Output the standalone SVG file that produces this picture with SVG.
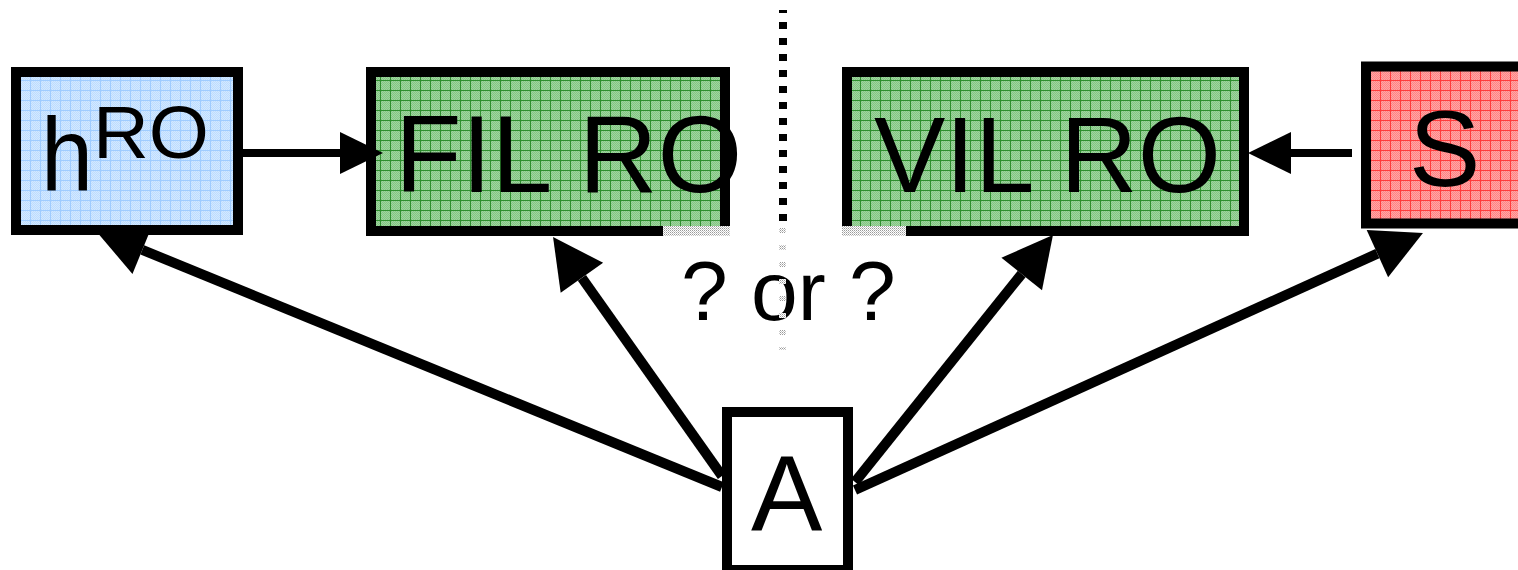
<svg xmlns="http://www.w3.org/2000/svg" width="1518" height="570" viewBox="0 0 1518 570">
  <style>
    .box { stroke: #000; stroke-width: 10; }
    .lbl { font-family: "Liberation Sans", Arial, sans-serif; fill: #000; }
    .big { font-size: 107px; }
    .conn { stroke: #000; stroke-width: 10; fill: none; stroke-linecap: butt; }
    .connh { stroke: #000; stroke-width: 8; fill: none; }
  </style>
  <defs>
    <!-- fine checker textures used under the grid lines -->
    <pattern id="chkBlue" width="2" height="2" patternUnits="userSpaceOnUse">
      <rect width="2" height="2" fill="#d3e9ff"/>
      <rect width="1" height="1" fill="#bddcff"/>
      <rect x="1" y="1" width="1" height="1" fill="#bddcff"/>
    </pattern>
    <pattern id="chkGreen" width="2" height="2" patternUnits="userSpaceOnUse">
      <rect width="2" height="2" fill="#9ed69e"/>
      <rect width="1" height="1" fill="#84c484"/>
      <rect x="1" y="1" width="1" height="1" fill="#84c484"/>
    </pattern>
    <pattern id="chkRed" width="2" height="2" patternUnits="userSpaceOnUse">
      <rect width="2" height="2" fill="#ffa6a6"/>
      <rect width="1" height="1" fill="#ff8484"/>
      <rect x="1" y="1" width="1" height="1" fill="#ff8484"/>
    </pattern>
    <pattern id="chkGray" width="2" height="2" patternUnits="userSpaceOnUse">
      <rect width="2" height="2" fill="#ffffff"/>
      <rect width="1" height="1" fill="#9a9a9a"/>
      <rect x="1" y="1" width="1" height="1" fill="#c8c8c8"/>
    </pattern>
    <!-- grid fills for the boxes -->
    <pattern id="gridBlue" width="10" height="10" patternUnits="userSpaceOnUse">
      <rect width="10" height="10" fill="url(#chkBlue)"/>
      <path d="M0,0.5H10M0.5,0V10" stroke="#9fccff" stroke-width="1"/>
    </pattern>
    <pattern id="gridGreen" width="10" height="10" patternUnits="userSpaceOnUse">
      <rect width="10" height="10" fill="url(#chkGreen)"/>
      <path d="M0,0.5H10M0.5,0V10" stroke="#2e8f2e" stroke-width="1"/>
    </pattern>
    <pattern id="gridRed" width="10" height="10" patternUnits="userSpaceOnUse">
      <rect width="10" height="10" fill="url(#chkRed)"/>
      <path d="M0,0.5H10M0.5,0V10" stroke="#ff3c3c" stroke-width="1"/>
    </pattern>
    <!-- arrowheads: line ends at the back of the head -->
    <marker id="headH" markerUnits="userSpaceOnUse" markerWidth="44" markerHeight="44" refX="0" refY="21" orient="auto" overflow="visible">
      <path d="M0,0L43,21L0,42Z" fill="#000"/>
    </marker>
    <marker id="headD" markerUnits="userSpaceOnUse" markerWidth="52" markerHeight="54" refX="0" refY="26" orient="auto" overflow="visible">
      <path d="M0,0L50,26L0,52Z" fill="#000"/>
    </marker>
  </defs>

  <rect width="1518" height="570" fill="#fff"/>

  <!-- divider between the two alternatives -->
  <g id="divider">
    <path d="M783,10V222" stroke="#000" stroke-width="8" stroke-dasharray="7 9" stroke-dashoffset="4" fill="none"/>
  </g>

  <g id="node-hRO">
    <rect class="box" x="16" y="72" width="222" height="158" fill="url(#gridBlue)"/>
    <text class="lbl" x="41" y="190" font-size="104" textLength="52" lengthAdjust="spacingAndGlyphs">h</text>
    <text class="lbl" x="93" y="158" font-size="74" textLength="116" lengthAdjust="spacingAndGlyphs">RO</text>
  </g>

  <g id="node-FILRO">
    <rect class="box" x="371" y="72" width="354" height="159" fill="url(#gridGreen)"/>
    <rect x="663" y="226" width="67" height="10" fill="url(#chkGray)"/>
    <text class="lbl" x="395" y="192" font-size="109">FIL RO</text>
  </g>

  <g id="node-VILRO">
    <rect class="box" x="847" y="72" width="397" height="159" fill="url(#gridGreen)"/>
    <rect x="842" y="226" width="64" height="10" fill="url(#chkGray)"/>
    <text class="lbl big" x="874" y="192">VIL RO</text>
  </g>

  <g id="node-S">
    <rect class="box" x="1366" y="66.5" width="200" height="157" fill="url(#gridRed)"/>
    <text class="lbl big" x="1409" y="186">S</text>
  </g>

  <g id="node-A">
    <rect class="box" x="727" y="412" width="121" height="158" fill="#fff"/>
    <text class="lbl big" x="751" y="531">A</text>
  </g>

  <g id="question">
    <text class="lbl" x="681" y="320" font-size="84">? or ?</text>
    <path d="M782.5,228V350" stroke="url(#chkGray)" stroke-width="7" stroke-dasharray="5 12" fill="none"/>
  </g>

  <g id="connectors">
    <path class="connh" d="M243,153H340" marker-end="url(#headH)"/>
    <path class="connh" d="M1352,153H1291" marker-end="url(#headH)"/>
    <path class="conn" d="M722,487L142.3,249.9" marker-end="url(#headD)"/>
    <path class="conn" d="M722,476L581.9,277.8" marker-end="url(#headD)"/>
    <path class="conn" d="M855,482L1021.7,274" marker-end="url(#headD)"/>
    <path class="conn" d="M855,490L1377.4,253.6" marker-end="url(#headD)"/>
  </g>
</svg>
